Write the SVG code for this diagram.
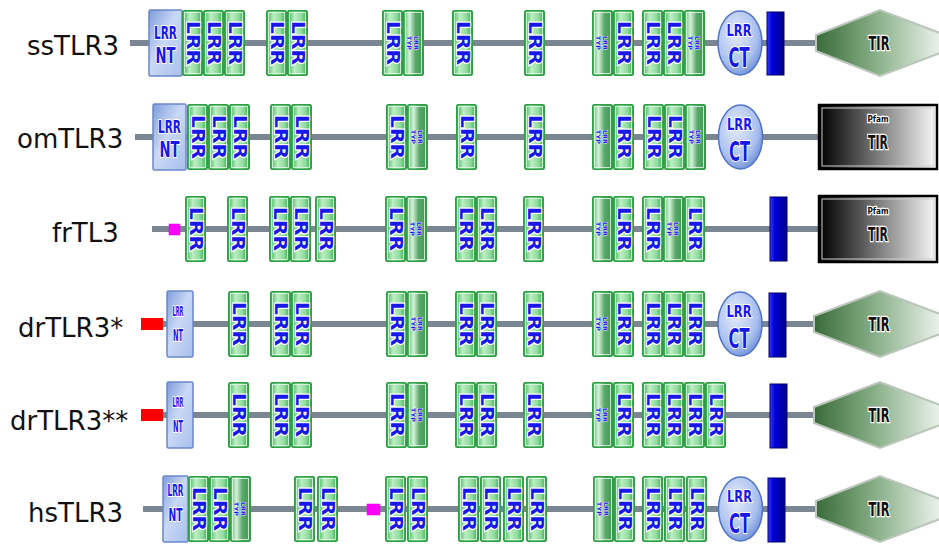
<svg xmlns="http://www.w3.org/2000/svg" width="939" height="544" viewBox="0 0 939 544">
<defs>
<linearGradient id="gL" x1="0" y1="0" x2="1" y2="0"><stop offset="0" stop-color="#3fb458"/><stop offset="0.35" stop-color="#bdeec4"/><stop offset="0.7" stop-color="#8fdc9c"/><stop offset="1" stop-color="#36a84e"/></linearGradient>
<linearGradient id="gT" x1="0" y1="0" x2="1" y2="0"><stop offset="0" stop-color="#5fbf72"/><stop offset="0.3" stop-color="#d3f1d8"/><stop offset="0.6" stop-color="#5aa86a"/><stop offset="1" stop-color="#3b9a51"/></linearGradient>
<linearGradient id="gN" x1="0" y1="0" x2="1" y2="1"><stop offset="0" stop-color="#7f9ddc"/><stop offset="0.45" stop-color="#c9d8f5"/><stop offset="1" stop-color="#a9bfec"/></linearGradient>
<radialGradient id="gC" cx="0.4" cy="0.35" r="0.7"><stop offset="0" stop-color="#e4ecfb"/><stop offset="0.7" stop-color="#a9bfee"/><stop offset="1" stop-color="#6d8fd8"/></radialGradient>
<linearGradient id="gH" x1="0" y1="0" x2="1" y2="0"><stop offset="0" stop-color="#3a6b3a"/><stop offset="0.45" stop-color="#86ad86"/><stop offset="1" stop-color="#f2f7f2"/></linearGradient>
<linearGradient id="gP" x1="0" y1="0" x2="1" y2="0"><stop offset="0" stop-color="#000"/><stop offset="0.08" stop-color="#111"/><stop offset="1" stop-color="#fafafa"/></linearGradient>
<linearGradient id="gB" x1="0" y1="0" x2="1" y2="0"><stop offset="0" stop-color="#3a3aff"/><stop offset="0.3" stop-color="#0000d8"/><stop offset="1" stop-color="#00008a"/></linearGradient>
<g id="bL"><rect x="0.75" y="0.75" width="19.5" height="64.5" rx="1.5" fill="url(#gL)" stroke="#2f9e46" stroke-width="1.5"/><rect x="2.5" y="2.5" width="16" height="61" fill="none" stroke="#e6f8e9" stroke-width="0.8"/></g>
<g id="bT"><rect x="0.75" y="0.75" width="19.5" height="64.5" rx="1.5" fill="url(#gT)" stroke="#2f9e46" stroke-width="1.5"/><rect x="2.5" y="2.5" width="16" height="61" fill="none" stroke="#e6f8e9" stroke-width="0.8"/></g>
</defs>
<style>
.lab{font-family:"DejaVu Sans","Liberation Sans",sans-serif;font-size:26px;fill:#111}
.ln{stroke:#7b8692;stroke-width:6;fill:none}
.d{font-family:"DejaVu Sans Condensed","DejaVu Sans",sans-serif;font-weight:bold;fill:#1818e8;stroke:#fff;stroke-width:2px;paint-order:stroke;text-anchor:middle;dominant-baseline:central}
.v{font-size:17px}
.s{font-size:6px;stroke-width:0.8px}
.nt{fill:url(#gN);stroke:#6a88c8;stroke-width:1.5}
.ct{fill:url(#gC);stroke:#4f73c9;stroke-width:1.5}
.bar{fill:url(#gB);stroke:#00006a;stroke-width:1}
.hex{fill:url(#gH);stroke:#b9c6b9;stroke-width:2}
.pf{fill:url(#gP);stroke:#000;stroke-width:2.5}
.t{font-family:"DejaVu Sans Condensed","DejaVu Sans",sans-serif;font-weight:bold;fill:#111;stroke:#fff;stroke-width:2.5px;paint-order:stroke;text-anchor:middle;dominant-baseline:central}
</style>
<rect width="939" height="544" fill="#fff"/>
<g id="labels">
<text class="lab" x="27" y="55">ssTLR3</text>
<text class="lab" x="17" y="148">omTLR3</text>
<text class="lab" x="52" y="242">frTL3</text>
<text class="lab" x="18" y="337">drTLR3*</text>
<text class="lab" x="10" y="430">drTLR3**</text>
<text class="lab" x="28" y="522">hsTLR3</text>
</g>
<g id="connectors">
<line class="ln" x1="130" y1="43" x2="818" y2="43"/>
<line class="ln" x1="135" y1="137" x2="820" y2="137"/>
<line class="ln" x1="152" y1="229" x2="820" y2="229"/>
<line class="ln" x1="160" y1="324" x2="816" y2="324"/>
<line class="ln" x1="160" y1="415" x2="816" y2="415"/>
<line class="ln" x1="143" y1="509" x2="818" y2="509"/>
</g>

<!-- Row 1 ssTLR3 cy=43 -->
<g id="r1-nt"><rect class="nt" x="149" y="10" width="33" height="66" rx="1.5"/><text class="d" x="165.5" y="33" font-size="17" textLength="23" lengthAdjust="spacingAndGlyphs">LRR</text><text class="d" x="165.5" y="56" font-size="21" textLength="20" lengthAdjust="spacingAndGlyphs">NT</text></g>
<g id="r1-l1"><use href="#bL" x="182" y="10"/><text class="d v" transform="translate(192.5,43) rotate(90)" textLength="44" lengthAdjust="spacingAndGlyphs">LRR</text></g>
<g id="r1-l2"><use href="#bL" x="203" y="10"/><text class="d v" transform="translate(213.5,43) rotate(90)" textLength="44" lengthAdjust="spacingAndGlyphs">LRR</text></g>
<g id="r1-l3"><use href="#bL" x="224" y="10"/><text class="d v" transform="translate(234.5,43) rotate(90)" textLength="44" lengthAdjust="spacingAndGlyphs">LRR</text></g>
<g id="r1-l4"><use href="#bL" x="266" y="10"/><text class="d v" transform="translate(276.5,43) rotate(90)" textLength="44" lengthAdjust="spacingAndGlyphs">LRR</text></g>
<g id="r1-l5"><use href="#bL" x="287" y="10"/><text class="d v" transform="translate(297.5,43) rotate(90)" textLength="44" lengthAdjust="spacingAndGlyphs">LRR</text></g>
<g id="r1-l6"><use href="#bL" x="382" y="10"/><text class="d v" transform="translate(392.5,43) rotate(90)" textLength="44" lengthAdjust="spacingAndGlyphs">LRR</text></g>
<g id="r1-t1"><use href="#bT" x="403" y="10"/><text class="d s" transform="translate(416.5,43) rotate(90)" textLength="14" lengthAdjust="spacingAndGlyphs">LRR</text><text class="d s" transform="translate(409.5,43) rotate(90)" textLength="14" lengthAdjust="spacingAndGlyphs">TYP</text></g>
<g id="r1-l7"><use href="#bL" x="452" y="10"/><text class="d v" transform="translate(462.5,43) rotate(90)" textLength="44" lengthAdjust="spacingAndGlyphs">LRR</text></g>
<g id="r1-l8"><use href="#bL" x="524" y="10"/><text class="d v" transform="translate(534.5,43) rotate(90)" textLength="44" lengthAdjust="spacingAndGlyphs">LRR</text></g>
<g id="r1-t2"><use href="#bT" x="592" y="10"/><text class="d s" transform="translate(605.5,43) rotate(90)" textLength="14" lengthAdjust="spacingAndGlyphs">LRR</text><text class="d s" transform="translate(598.5,43) rotate(90)" textLength="14" lengthAdjust="spacingAndGlyphs">TYP</text></g>
<g id="r1-l9"><use href="#bL" x="613" y="10"/><text class="d v" transform="translate(623.5,43) rotate(90)" textLength="44" lengthAdjust="spacingAndGlyphs">LRR</text></g>
<g id="r1-l10"><use href="#bL" x="642" y="10"/><text class="d v" transform="translate(652.5,43) rotate(90)" textLength="44" lengthAdjust="spacingAndGlyphs">LRR</text></g>
<g id="r1-l11"><use href="#bL" x="663" y="10"/><text class="d v" transform="translate(673.5,43) rotate(90)" textLength="44" lengthAdjust="spacingAndGlyphs">LRR</text></g>
<g id="r1-t3"><use href="#bT" x="684" y="10"/><text class="d s" transform="translate(697.5,43) rotate(90)" textLength="14" lengthAdjust="spacingAndGlyphs">LRR</text><text class="d s" transform="translate(690.5,43) rotate(90)" textLength="14" lengthAdjust="spacingAndGlyphs">TYP</text></g>
<g id="r1-ct"><ellipse class="ct" cx="740" cy="43" rx="22" ry="32"/><text class="d" x="739" y="30" font-size="16" textLength="25" lengthAdjust="spacingAndGlyphs">LRR</text><text class="d" x="739" y="57" font-size="27" textLength="21" lengthAdjust="spacingAndGlyphs">CT</text></g>
<g id="r1-tm"><rect class="bar" x="767" y="12" width="17" height="63"/></g>
<g id="r1-tir"><path class="hex" d="M816,35 L880,10 L945,35 L945,51 L880,76 L816,51 Z"/><text class="t" x="879" y="43" font-size="19" textLength="21" lengthAdjust="spacingAndGlyphs">TIR</text></g>

<!-- Row 2 omTLR3 cy=137 -->
<g id="r2-nt"><rect class="nt" x="153" y="104" width="33" height="66" rx="1.5"/><text class="d" x="169.5" y="127" font-size="17" textLength="23" lengthAdjust="spacingAndGlyphs">LRR</text><text class="d" x="169.5" y="150" font-size="21" textLength="20" lengthAdjust="spacingAndGlyphs">NT</text></g>
<g id="r2-l1"><use href="#bL" x="187" y="104"/><text class="d v" transform="translate(197.5,137) rotate(90)" textLength="44" lengthAdjust="spacingAndGlyphs">LRR</text></g>
<g id="r2-l2"><use href="#bL" x="208" y="104"/><text class="d v" transform="translate(218.5,137) rotate(90)" textLength="44" lengthAdjust="spacingAndGlyphs">LRR</text></g>
<g id="r2-l3"><use href="#bL" x="229" y="104"/><text class="d v" transform="translate(239.5,137) rotate(90)" textLength="44" lengthAdjust="spacingAndGlyphs">LRR</text></g>
<g id="r2-l4"><use href="#bL" x="270" y="104"/><text class="d v" transform="translate(280.5,137) rotate(90)" textLength="44" lengthAdjust="spacingAndGlyphs">LRR</text></g>
<g id="r2-l5"><use href="#bL" x="291" y="104"/><text class="d v" transform="translate(301.5,137) rotate(90)" textLength="44" lengthAdjust="spacingAndGlyphs">LRR</text></g>
<g id="r2-l6"><use href="#bL" x="386" y="104"/><text class="d v" transform="translate(396.5,137) rotate(90)" textLength="44" lengthAdjust="spacingAndGlyphs">LRR</text></g>
<g id="r2-t1"><use href="#bT" x="407" y="104"/><text class="d s" transform="translate(420.5,137) rotate(90)" textLength="14" lengthAdjust="spacingAndGlyphs">LRR</text><text class="d s" transform="translate(413.5,137) rotate(90)" textLength="14" lengthAdjust="spacingAndGlyphs">TYP</text></g>
<g id="r2-l7"><use href="#bL" x="456" y="104"/><text class="d v" transform="translate(466.5,137) rotate(90)" textLength="44" lengthAdjust="spacingAndGlyphs">LRR</text></g>
<g id="r2-l8"><use href="#bL" x="524" y="104"/><text class="d v" transform="translate(534.5,137) rotate(90)" textLength="44" lengthAdjust="spacingAndGlyphs">LRR</text></g>
<g id="r2-t2"><use href="#bT" x="592" y="104"/><text class="d s" transform="translate(605.5,137) rotate(90)" textLength="14" lengthAdjust="spacingAndGlyphs">LRR</text><text class="d s" transform="translate(598.5,137) rotate(90)" textLength="14" lengthAdjust="spacingAndGlyphs">TYP</text></g>
<g id="r2-l9"><use href="#bL" x="613" y="104"/><text class="d v" transform="translate(623.5,137) rotate(90)" textLength="44" lengthAdjust="spacingAndGlyphs">LRR</text></g>
<g id="r2-l10"><use href="#bL" x="643" y="104"/><text class="d v" transform="translate(653.5,137) rotate(90)" textLength="44" lengthAdjust="spacingAndGlyphs">LRR</text></g>
<g id="r2-l11"><use href="#bL" x="664" y="104"/><text class="d v" transform="translate(674.5,137) rotate(90)" textLength="44" lengthAdjust="spacingAndGlyphs">LRR</text></g>
<g id="r2-t3"><use href="#bT" x="685" y="104"/><text class="d s" transform="translate(698.5,137) rotate(90)" textLength="14" lengthAdjust="spacingAndGlyphs">LRR</text><text class="d s" transform="translate(691.5,137) rotate(90)" textLength="14" lengthAdjust="spacingAndGlyphs">TYP</text></g>
<g id="r2-ct"><ellipse class="ct" cx="740.5" cy="137" rx="22" ry="32"/><text class="d" x="739.5" y="124" font-size="16" textLength="25" lengthAdjust="spacingAndGlyphs">LRR</text><text class="d" x="739.5" y="151" font-size="27" textLength="21" lengthAdjust="spacingAndGlyphs">CT</text></g>
<g id="r2-tir"><rect class="pf" x="819" y="105" width="118" height="64"/><rect x="822" y="108" width="112" height="58" fill="none" stroke="#d0d0d0" stroke-width="1"/><text class="t" x="878" y="119" font-size="9" textLength="21" lengthAdjust="spacingAndGlyphs">Pfam</text><text class="t" x="878" y="142" font-size="19" textLength="20" lengthAdjust="spacingAndGlyphs">TIR</text></g>

<!-- Row 3 frTL3 cy=229 -->
<g id="r3-sig"><rect x="169" y="224" width="11" height="11" fill="#ff00ff" stroke="#e000e0" stroke-width="0.5"/></g>
<g id="r3-l1"><use href="#bL" x="185" y="196"/><text class="d v" transform="translate(195.5,229) rotate(90)" textLength="44" lengthAdjust="spacingAndGlyphs">LRR</text></g>
<g id="r3-l2"><use href="#bL" x="227" y="196"/><text class="d v" transform="translate(237.5,229) rotate(90)" textLength="44" lengthAdjust="spacingAndGlyphs">LRR</text></g>
<g id="r3-l3"><use href="#bL" x="269" y="196"/><text class="d v" transform="translate(279.5,229) rotate(90)" textLength="44" lengthAdjust="spacingAndGlyphs">LRR</text></g>
<g id="r3-l4"><use href="#bL" x="290" y="196"/><text class="d v" transform="translate(300.5,229) rotate(90)" textLength="44" lengthAdjust="spacingAndGlyphs">LRR</text></g>
<g id="r3-l5"><use href="#bL" x="315" y="196"/><text class="d v" transform="translate(325.5,229) rotate(90)" textLength="44" lengthAdjust="spacingAndGlyphs">LRR</text></g>
<g id="r3-l6"><use href="#bL" x="385" y="196"/><text class="d v" transform="translate(395.5,229) rotate(90)" textLength="44" lengthAdjust="spacingAndGlyphs">LRR</text></g>
<g id="r3-t1"><use href="#bT" x="406" y="196"/><text class="d s" transform="translate(419.5,229) rotate(90)" textLength="14" lengthAdjust="spacingAndGlyphs">LRR</text><text class="d s" transform="translate(412.5,229) rotate(90)" textLength="14" lengthAdjust="spacingAndGlyphs">TYP</text></g>
<g id="r3-l7"><use href="#bL" x="455" y="196"/><text class="d v" transform="translate(465.5,229) rotate(90)" textLength="44" lengthAdjust="spacingAndGlyphs">LRR</text></g>
<g id="r3-l8"><use href="#bL" x="476" y="196"/><text class="d v" transform="translate(486.5,229) rotate(90)" textLength="44" lengthAdjust="spacingAndGlyphs">LRR</text></g>
<g id="r3-l9"><use href="#bL" x="523" y="196"/><text class="d v" transform="translate(533.5,229) rotate(90)" textLength="44" lengthAdjust="spacingAndGlyphs">LRR</text></g>
<g id="r3-t2"><use href="#bT" x="592" y="196"/><text class="d s" transform="translate(605.5,229) rotate(90)" textLength="14" lengthAdjust="spacingAndGlyphs">LRR</text><text class="d s" transform="translate(598.5,229) rotate(90)" textLength="14" lengthAdjust="spacingAndGlyphs">TYP</text></g>
<g id="r3-l10"><use href="#bL" x="613" y="196"/><text class="d v" transform="translate(623.5,229) rotate(90)" textLength="44" lengthAdjust="spacingAndGlyphs">LRR</text></g>
<g id="r3-l11"><use href="#bL" x="642" y="196"/><text class="d v" transform="translate(652.5,229) rotate(90)" textLength="44" lengthAdjust="spacingAndGlyphs">LRR</text></g>
<g id="r3-t3"><use href="#bT" x="663" y="196"/><text class="d s" transform="translate(676.5,229) rotate(90)" textLength="14" lengthAdjust="spacingAndGlyphs">LRR</text><text class="d s" transform="translate(669.5,229) rotate(90)" textLength="14" lengthAdjust="spacingAndGlyphs">TYP</text></g>
<g id="r3-l12"><use href="#bL" x="684" y="196"/><text class="d v" transform="translate(694.5,229) rotate(90)" textLength="44" lengthAdjust="spacingAndGlyphs">LRR</text></g>
<g id="r3-tm"><rect class="bar" x="770" y="197" width="17" height="64"/></g>
<g id="r3-tir"><rect class="pf" x="819" y="196" width="118" height="66"/><rect x="822" y="199" width="112" height="60" fill="none" stroke="#d0d0d0" stroke-width="1"/><text class="t" x="878" y="211" font-size="9" textLength="21" lengthAdjust="spacingAndGlyphs">Pfam</text><text class="t" x="878" y="234" font-size="19" textLength="20" lengthAdjust="spacingAndGlyphs">TIR</text></g>

<!-- Row 4 drTLR3* cy=324 -->
<g id="r4-sig"><rect x="141" y="318" width="22" height="12" fill="#f00"/></g>
<g id="r4-nt"><rect class="nt" x="167" y="291" width="26" height="66" rx="1.5"/><text class="d" x="178" y="311" font-size="14" textLength="11" lengthAdjust="spacingAndGlyphs">LRR</text><text class="d" x="178" y="336" font-size="15" textLength="10" lengthAdjust="spacingAndGlyphs">NT</text></g>
<g id="r4-l1"><use href="#bL" x="228" y="291"/><text class="d v" transform="translate(238.5,324) rotate(90)" textLength="44" lengthAdjust="spacingAndGlyphs">LRR</text></g>
<g id="r4-l2"><use href="#bL" x="270" y="291"/><text class="d v" transform="translate(280.5,324) rotate(90)" textLength="44" lengthAdjust="spacingAndGlyphs">LRR</text></g>
<g id="r4-l3"><use href="#bL" x="291" y="291"/><text class="d v" transform="translate(301.5,324) rotate(90)" textLength="44" lengthAdjust="spacingAndGlyphs">LRR</text></g>
<g id="r4-l4"><use href="#bL" x="386" y="291"/><text class="d v" transform="translate(396.5,324) rotate(90)" textLength="44" lengthAdjust="spacingAndGlyphs">LRR</text></g>
<g id="r4-t1"><use href="#bT" x="407" y="291"/><text class="d s" transform="translate(420.5,324) rotate(90)" textLength="14" lengthAdjust="spacingAndGlyphs">LRR</text><text class="d s" transform="translate(413.5,324) rotate(90)" textLength="14" lengthAdjust="spacingAndGlyphs">TYP</text></g>
<g id="r4-l5"><use href="#bL" x="455" y="291"/><text class="d v" transform="translate(465.5,324) rotate(90)" textLength="44" lengthAdjust="spacingAndGlyphs">LRR</text></g>
<g id="r4-l6"><use href="#bL" x="476" y="291"/><text class="d v" transform="translate(486.5,324) rotate(90)" textLength="44" lengthAdjust="spacingAndGlyphs">LRR</text></g>
<g id="r4-l7"><use href="#bL" x="523" y="291"/><text class="d v" transform="translate(533.5,324) rotate(90)" textLength="44" lengthAdjust="spacingAndGlyphs">LRR</text></g>
<g id="r4-t2"><use href="#bT" x="592" y="291"/><text class="d s" transform="translate(605.5,324) rotate(90)" textLength="14" lengthAdjust="spacingAndGlyphs">LRR</text><text class="d s" transform="translate(598.5,324) rotate(90)" textLength="14" lengthAdjust="spacingAndGlyphs">TYP</text></g>
<g id="r4-l8"><use href="#bL" x="613" y="291"/><text class="d v" transform="translate(623.5,324) rotate(90)" textLength="44" lengthAdjust="spacingAndGlyphs">LRR</text></g>
<g id="r4-l9"><use href="#bL" x="642" y="291"/><text class="d v" transform="translate(652.5,324) rotate(90)" textLength="44" lengthAdjust="spacingAndGlyphs">LRR</text></g>
<g id="r4-l10"><use href="#bL" x="663" y="291"/><text class="d v" transform="translate(673.5,324) rotate(90)" textLength="44" lengthAdjust="spacingAndGlyphs">LRR</text></g>
<g id="r4-l11"><use href="#bL" x="684" y="291"/><text class="d v" transform="translate(694.5,324) rotate(90)" textLength="44" lengthAdjust="spacingAndGlyphs">LRR</text></g>
<g id="r4-ct"><ellipse class="ct" cx="740" cy="324" rx="22" ry="32"/><text class="d" x="739" y="311" font-size="16" textLength="25" lengthAdjust="spacingAndGlyphs">LRR</text><text class="d" x="739" y="338" font-size="27" textLength="21" lengthAdjust="spacingAndGlyphs">CT</text></g>
<g id="r4-tm"><rect class="bar" x="769" y="293" width="17" height="64"/></g>
<g id="r4-tir"><path class="hex" d="M814,316 L880,291 L945,316 L945,332 L880,357 L814,332 Z"/><text class="t" x="879" y="324" font-size="19" textLength="21" lengthAdjust="spacingAndGlyphs">TIR</text></g>

<!-- Row 5 drTLR3** cy=415 -->
<g id="r5-sig"><rect x="141" y="409" width="22" height="12" fill="#f00"/></g>
<g id="r5-nt"><rect class="nt" x="167" y="382" width="26" height="66" rx="1.5"/><text class="d" x="178" y="402" font-size="14" textLength="11" lengthAdjust="spacingAndGlyphs">LRR</text><text class="d" x="178" y="427" font-size="15" textLength="10" lengthAdjust="spacingAndGlyphs">NT</text></g>
<g id="r5-l1"><use href="#bL" x="228" y="382"/><text class="d v" transform="translate(238.5,415) rotate(90)" textLength="44" lengthAdjust="spacingAndGlyphs">LRR</text></g>
<g id="r5-l2"><use href="#bL" x="270" y="382"/><text class="d v" transform="translate(280.5,415) rotate(90)" textLength="44" lengthAdjust="spacingAndGlyphs">LRR</text></g>
<g id="r5-l3"><use href="#bL" x="291" y="382"/><text class="d v" transform="translate(301.5,415) rotate(90)" textLength="44" lengthAdjust="spacingAndGlyphs">LRR</text></g>
<g id="r5-l4"><use href="#bL" x="386" y="382"/><text class="d v" transform="translate(396.5,415) rotate(90)" textLength="44" lengthAdjust="spacingAndGlyphs">LRR</text></g>
<g id="r5-t1"><use href="#bT" x="407" y="382"/><text class="d s" transform="translate(420.5,415) rotate(90)" textLength="14" lengthAdjust="spacingAndGlyphs">LRR</text><text class="d s" transform="translate(413.5,415) rotate(90)" textLength="14" lengthAdjust="spacingAndGlyphs">TYP</text></g>
<g id="r5-l5"><use href="#bL" x="455" y="382"/><text class="d v" transform="translate(465.5,415) rotate(90)" textLength="44" lengthAdjust="spacingAndGlyphs">LRR</text></g>
<g id="r5-l6"><use href="#bL" x="476" y="382"/><text class="d v" transform="translate(486.5,415) rotate(90)" textLength="44" lengthAdjust="spacingAndGlyphs">LRR</text></g>
<g id="r5-l7"><use href="#bL" x="523" y="382"/><text class="d v" transform="translate(533.5,415) rotate(90)" textLength="44" lengthAdjust="spacingAndGlyphs">LRR</text></g>
<g id="r5-t2"><use href="#bT" x="592" y="382"/><text class="d s" transform="translate(605.5,415) rotate(90)" textLength="14" lengthAdjust="spacingAndGlyphs">LRR</text><text class="d s" transform="translate(598.5,415) rotate(90)" textLength="14" lengthAdjust="spacingAndGlyphs">TYP</text></g>
<g id="r5-l8"><use href="#bL" x="613" y="382"/><text class="d v" transform="translate(623.5,415) rotate(90)" textLength="44" lengthAdjust="spacingAndGlyphs">LRR</text></g>
<g id="r5-l9"><use href="#bL" x="642" y="382"/><text class="d v" transform="translate(652.5,415) rotate(90)" textLength="44" lengthAdjust="spacingAndGlyphs">LRR</text></g>
<g id="r5-l10"><use href="#bL" x="663" y="382"/><text class="d v" transform="translate(673.5,415) rotate(90)" textLength="44" lengthAdjust="spacingAndGlyphs">LRR</text></g>
<g id="r5-l11"><use href="#bL" x="684" y="382"/><text class="d v" transform="translate(694.5,415) rotate(90)" textLength="44" lengthAdjust="spacingAndGlyphs">LRR</text></g>
<g id="r5-l12"><use href="#bL" x="705" y="382"/><text class="d v" transform="translate(715.5,415) rotate(90)" textLength="44" lengthAdjust="spacingAndGlyphs">LRR</text></g>
<g id="r5-tm"><rect class="bar" x="770" y="384" width="17" height="64"/></g>
<g id="r5-tir"><path class="hex" d="M814,407 L880,382 L945,407 L945,423 L880,448 L814,423 Z"/><text class="t" x="879" y="415" font-size="19" textLength="21" lengthAdjust="spacingAndGlyphs">TIR</text></g>

<!-- Row 6 hsTLR3 cy=509 -->
<g id="r6-nt"><rect class="nt" x="163" y="476" width="25" height="66" rx="1.5"/><text class="d" x="175.5" y="491" font-size="15" textLength="16" lengthAdjust="spacingAndGlyphs">LRR</text><text class="d" x="175.5" y="514" font-size="18" textLength="14" lengthAdjust="spacingAndGlyphs">NT</text></g>
<g id="r6-l1"><use href="#bL" x="188" y="476"/><text class="d v" transform="translate(198.5,509) rotate(90)" textLength="44" lengthAdjust="spacingAndGlyphs">LRR</text></g>
<g id="r6-l2"><use href="#bL" x="209" y="476"/><text class="d v" transform="translate(219.5,509) rotate(90)" textLength="44" lengthAdjust="spacingAndGlyphs">LRR</text></g>
<g id="r6-t1"><use href="#bT" x="230" y="476"/><text class="d s" transform="translate(243.5,509) rotate(90)" textLength="14" lengthAdjust="spacingAndGlyphs">LRR</text><text class="d s" transform="translate(236.5,509) rotate(90)" textLength="14" lengthAdjust="spacingAndGlyphs">TYP</text></g>
<g id="r6-l3"><use href="#bL" x="294" y="476"/><text class="d v" transform="translate(304.5,509) rotate(90)" textLength="44" lengthAdjust="spacingAndGlyphs">LRR</text></g>
<g id="r6-l4"><use href="#bL" x="317" y="476"/><text class="d v" transform="translate(327.5,509) rotate(90)" textLength="44" lengthAdjust="spacingAndGlyphs">LRR</text></g>
<g id="r6-lc"><rect x="367" y="504" width="13" height="11" fill="#ff00ff" stroke="#e000e0" stroke-width="0.5"/></g>
<g id="r6-l5"><use href="#bL" x="385" y="476"/><text class="d v" transform="translate(395.5,509) rotate(90)" textLength="44" lengthAdjust="spacingAndGlyphs">LRR</text></g>
<g id="r6-l6"><use href="#bL" x="407" y="476"/><text class="d v" transform="translate(417.5,509) rotate(90)" textLength="44" lengthAdjust="spacingAndGlyphs">LRR</text></g>
<g id="r6-l7"><use href="#bL" x="458" y="476"/><text class="d v" transform="translate(468.5,509) rotate(90)" textLength="44" lengthAdjust="spacingAndGlyphs">LRR</text></g>
<g id="r6-l8"><use href="#bL" x="480" y="476"/><text class="d v" transform="translate(490.5,509) rotate(90)" textLength="44" lengthAdjust="spacingAndGlyphs">LRR</text></g>
<g id="r6-l9"><use href="#bL" x="503" y="476"/><text class="d v" transform="translate(513.5,509) rotate(90)" textLength="44" lengthAdjust="spacingAndGlyphs">LRR</text></g>
<g id="r6-l10"><use href="#bL" x="526" y="476"/><text class="d v" transform="translate(536.5,509) rotate(90)" textLength="44" lengthAdjust="spacingAndGlyphs">LRR</text></g>
<g id="r6-t2"><use href="#bT" x="593" y="476"/><text class="d s" transform="translate(606.5,509) rotate(90)" textLength="14" lengthAdjust="spacingAndGlyphs">LRR</text><text class="d s" transform="translate(599.5,509) rotate(90)" textLength="14" lengthAdjust="spacingAndGlyphs">TYP</text></g>
<g id="r6-l11"><use href="#bL" x="614" y="476"/><text class="d v" transform="translate(624.5,509) rotate(90)" textLength="44" lengthAdjust="spacingAndGlyphs">LRR</text></g>
<g id="r6-l12"><use href="#bL" x="642" y="476"/><text class="d v" transform="translate(652.5,509) rotate(90)" textLength="44" lengthAdjust="spacingAndGlyphs">LRR</text></g>
<g id="r6-l13"><use href="#bL" x="664" y="476"/><text class="d v" transform="translate(674.5,509) rotate(90)" textLength="44" lengthAdjust="spacingAndGlyphs">LRR</text></g>
<g id="r6-l14"><use href="#bL" x="686" y="476"/><text class="d v" transform="translate(696.5,509) rotate(90)" textLength="44" lengthAdjust="spacingAndGlyphs">LRR</text></g>
<g id="r6-ct"><ellipse class="ct" cx="740.5" cy="509" rx="22" ry="32"/><text class="d" x="739.5" y="496" font-size="16" textLength="25" lengthAdjust="spacingAndGlyphs">LRR</text><text class="d" x="739.5" y="523" font-size="27" textLength="21" lengthAdjust="spacingAndGlyphs">CT</text></g>
<g id="r6-tm"><rect class="bar" x="768" y="478" width="17" height="64"/></g>
<g id="r6-tir"><path class="hex" d="M816,501 L880,476 L945,501 L945,517 L880,542 L816,517 Z"/><text class="t" x="879" y="509" font-size="19" textLength="21" lengthAdjust="spacingAndGlyphs">TIR</text></g>
</svg>
